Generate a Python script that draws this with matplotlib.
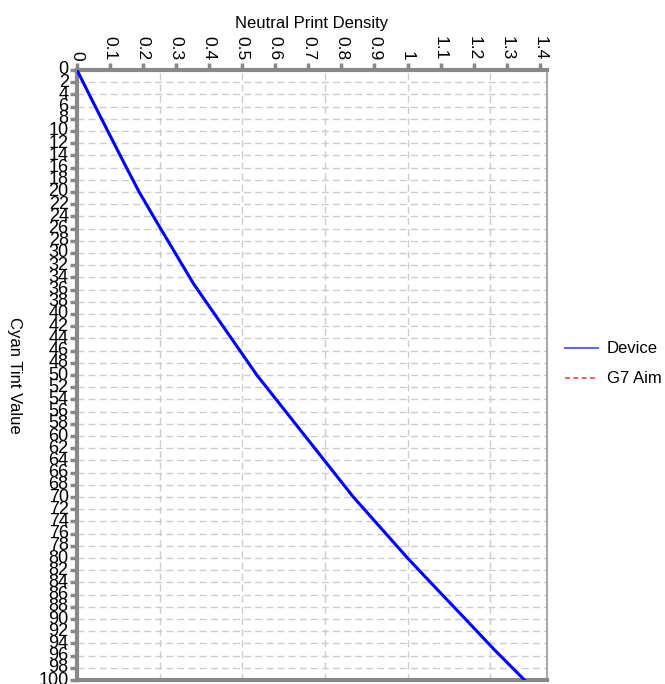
import matplotlib.pyplot as plt
from matplotlib.ticker import MultipleLocator

plt.rcParams['font.family'] = ['Liberation Sans', 'DejaVu Sans']
narrow = ['Liberation Sans Narrow', 'Liberation Sans', 'DejaVu Sans']

# Cyan tint value vs neutral print density
tint = [0, 5, 10, 15, 20, 25, 30, 35, 40, 45, 50,
        55, 60, 65, 70, 75, 80, 85, 90, 95, 100]
device = [0, 0.046, 0.093, 0.140, 0.188, 0.242, 0.297, 0.352, 0.416, 0.480, 0.544,
          0.617, 0.690, 0.763, 0.836, 0.918, 1.000, 1.087, 1.175, 1.262, 1.354]
g7_tint = []
g7_aim = []

x_ticks = [0, 0.1, 0.2, 0.3, 0.4, 0.5, 0.6, 0.7, 0.8, 0.9, 1, 1.1, 1.2, 1.3, 1.4]
x_labels = ["0", "0.1", "0.2", "0.3", "0.4", "0.5", "0.6", "0.7", "0.8", "0.9",
            "1", "1.1", "1.2", "1.3", "1.4"]
x_grid = [0.25, 0.5, 0.75, 1.0, 1.25]

fig = plt.figure(figsize=(6.65, 6.84), dpi=100)
ax = fig.add_axes([0.1158, 0.0058, 0.7068, 0.8919])

ax.plot(device, tint, color='#0000ff', lw=2.2, label='Device', zorder=3)
ax.plot(g7_aim, g7_tint, color='#ff0000', lw=1.2, ls=(0, (3, 2)), label='G7 Aim')

ax.set_xlim(0, 1.422)
ax.set_ylim(100, 0)

ax.xaxis.tick_top()
ax.xaxis.set_label_position('top')
ax.set_xticks(x_ticks)
ax.set_xticklabels(x_labels, rotation=-90, fontsize=12.5, family=narrow)
ax.yaxis.set_major_locator(MultipleLocator(2))
for lbl in ax.get_yticklabels():
    lbl.set_family(narrow)
ax.tick_params(axis='y', labelsize=13, direction='out', length=5, width=2.5,
               color='#888888', pad=1)
ax.tick_params(axis='x', direction='out', length=5, width=2.5,
               color='#888888', pad=2, top=True, bottom=False)
for lbl in ax.get_yticklabels():
    lbl.set_verticalalignment('center')

ax.grid(True, axis='y', color='#cccccc', ls=(0, (5, 3)), lw=1)
for xv in x_grid:
    ax.axvline(xv, color='#cccccc', ls=(0, (5, 3)), lw=1, zorder=1)

for side in ['top', 'bottom', 'left']:
    ax.spines[side].set_color('#888888')
    ax.spines[side].set_linewidth(3)
ax.spines['right'].set_color('#aaaaaa')
ax.spines['right'].set_linewidth(1.5)

ax.set_xlabel("Neutral Print Density", fontsize=12, labelpad=6)
ax.set_ylabel("Cyan Tint Value", fontsize=12, rotation=-90, va='center')
ax.yaxis.set_label_coords(-0.132, 0.5)

leg = fig.legend(loc='center left', bbox_to_anchor=(0.839, 0.468), frameon=False,
                 fontsize=12, handlelength=2.0, handletextpad=0.55,
                 labelspacing=0.9, borderaxespad=0)
leg.get_lines()[0].set_color('#6666ff')
leg.get_lines()[0].set_linewidth(1.5)
leg.get_lines()[1].set_color('#ff4444')

fig.savefig("out.png", dpi=100)
